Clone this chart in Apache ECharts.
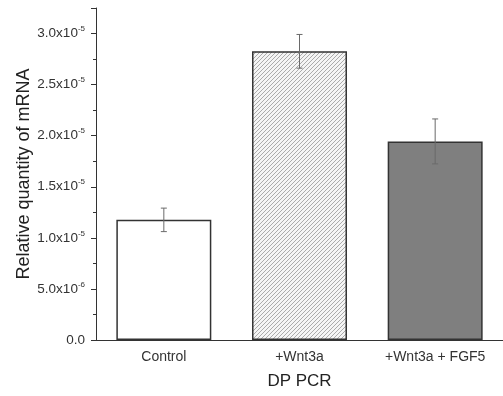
<!DOCTYPE html>
<html>
<head>
<meta charset="utf-8">
<script src="https://cdn.jsdelivr.net/npm/echarts@6/dist/echarts.min.js"></script>
<style>
  html, body { margin: 0; padding: 0; background: #fff; }
  #main { width: 503px; height: 396px; }
</style>
</head>
<body>
<div id="main"></div>
<script>
// DP PCR, relative mRNA quantity
var groups = ['Control', '+Wnt3a', '+Wnt3a + FGF5'];
var means = [1.176e-5, 2.826e-5, 1.944e-5];
var errs = [0.115e-5, 0.165e-5, 0.22e-5];

// hatch for the Wnt3a bar
function hatch () {
  var c = document.createElement('canvas');
  c.width = 4; c.height = 4;
  var ctx = c.getContext('2d');
  ctx.fillStyle = '#f5f5f5';
  ctx.fillRect(0, 0, 4, 4);
  ctx.strokeStyle = '#ababab';
  ctx.lineWidth = 1;
  ctx.beginPath();
  ctx.moveTo(-1, 5); ctx.lineTo(5, -1);
  ctx.moveTo(-1, 1); ctx.lineTo(1, -1);
  ctx.moveTo(3, 5); ctx.lineTo(5, 3);
  ctx.stroke();
  return c;
}

var fills = ['#ffffff', { image: hatch(), repeat: 'repeat' }, '#7f7f7f'];

// 1.5e-5 -> 1.5x10^-5, 0.5e-5 -> 5.0x10^-6
function yLabel (v) {
  if (Math.abs(v) < 1e-12) return '{a|0.0}';
  var e = Math.floor(Math.log10(v) + 1e-9);
  var m = v / Math.pow(10, e);
  return '{a|' + m.toFixed(1) + 'x10}{b|' + e + '}';
}

var chart = echarts.init(document.getElementById('main'));

var option = {
  animation: false,
  grid: { left: 96, top: 8, bottom: 56, right: -6 },
  xAxis: [
    {
      type: 'category',
      data: groups,
      name: 'DP PCR',
      nameLocation: 'middle',
      nameGap: 33,
      nameTextStyle: { fontFamily: 'Liberation Sans', fontSize: 17, color: '#222' },
      axisLine: { lineStyle: { color: '#333', width: 1 } },
      axisTick: { alignWithLabel: true, length: 6, lineStyle: { color: '#333' } },
      axisLabel: { fontFamily: 'Liberation Sans', fontSize: 14, color: '#333', margin: 10 }
    },
    {
      type: 'category',
      data: groups,
      position: 'bottom',
      axisLine: { show: false },
      axisTick: { length: 4, lineStyle: { color: '#333' } },
      axisLabel: { show: false }
    }
  ],
  yAxis: {
    type: 'value',
    min: 0,
    max: 3.25e-5,
    interval: 0.5e-5,
    name: 'Relative quantity of mRNA',
    nameLocation: 'middle',
    nameGap: 63,
    nameMoveOverlap: false,
    nameTextStyle: { fontFamily: 'Liberation Sans', fontSize: 18, color: '#222' },
    splitLine: { show: false },
    axisLine: { show: true, lineStyle: { color: '#333', width: 1 } },
    axisTick: { show: true, length: 5, lineStyle: { color: '#333' } },
    minorTick: { show: true, splitNumber: 2, length: 3, lineStyle: { color: '#333' } },
    axisLabel: {
      formatter: yLabel,
      showMaxLabel: false,
      margin: 11,
      rich: {
        a: { fontFamily: 'Liberation Sans', fontSize: 13.5, color: '#333' },
        b: { fontFamily: 'Liberation Sans', fontSize: 8, color: '#333', padding: [0, 0, 9, 0] }
      }
    }
  },
  series: [
    {
      type: 'bar',
      barWidth: '70%',
      data: means.map(function (v, i) {
        return { value: v, itemStyle: { color: fills[i] } };
      }),
      itemStyle: { borderColor: '#333', borderWidth: 1.5 }
    },
    {
      type: 'custom',
      data: means.map(function (v, i) { return [i, v - errs[i], v + errs[i]]; }),
      z: 5,
      renderItem: function (params, api) {
        var lo = api.coord([api.value(0), api.value(1)]);
        var hi = api.coord([api.value(0), api.value(2)]);
        var w = 3;
        var st = { stroke: '#6a6a6a', lineWidth: 1 };
        return {
          type: 'group',
          children: [
            { type: 'line', shape: { x1: hi[0], y1: hi[1], x2: lo[0], y2: lo[1] }, style: st },
            { type: 'line', shape: { x1: hi[0] - w, y1: hi[1], x2: hi[0] + w, y2: hi[1] }, style: st },
            { type: 'line', shape: { x1: lo[0] - w, y1: lo[1], x2: lo[0] + w, y2: lo[1] }, style: st }
          ]
        };
      }
    }
  ]
};

chart.setOption(option);
</script>
</body>
</html>
